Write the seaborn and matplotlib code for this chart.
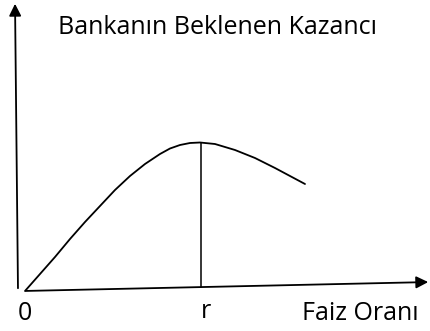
import numpy as np
import pandas as pd
import matplotlib
matplotlib.use("Agg")
import matplotlib.pyplot as plt
import seaborn as sns

# interest rate vs. bank's expected profit (schematic units)
faiz = [0, 15, 30, 45, 60, 75, 90, 105, 120, 135, 145, 155, 165, 175, 190, 210, 230, 250, 265, 280]
kazanc = [0, 17, 34, 52, 69, 85, 101, 115, 127, 137, 142.5, 146, 148, 148.5, 147, 141, 133, 123, 115, 107]
r_value = 176
r_peak = 148.5

sns.set_style("white")
plt.rcParams['font.family'] = ['Open Sans', 'DejaVu Sans']

fig = plt.figure(figsize=(4.31, 3.31), dpi=100)
ax = fig.add_axes([0, 0, 1, 1])
df = pd.DataFrame({"faiz": faiz, "kazanc": kazanc})
sns.lineplot(data=df, x="faiz", y="kazanc", color="black", lw=1.3, ax=ax)

# vertical line from the peak down to the x axis
ax.plot([r_value, r_value], [4, r_peak], color="black", lw=1.1)

# axes with arrow heads
ax.annotate("", xy=(-10, 290), xytext=(-7, 0),
            arrowprops=dict(arrowstyle="-|>", color="black", lw=1.3, mutation_scale=18))
ax.annotate("", xy=(406, 9), xytext=(-2, 0),
            arrowprops=dict(arrowstyle="-|>", color="black", lw=1.3, mutation_scale=18))

fs = 18
ax.text(33, 263, "Bankanın Beklenen Kazancı", ha="left", va="center", fontsize=fs, color="black")
ax.text(0, -22, "0", ha="center", va="center", fontsize=fs, color="black")
ax.text(181, -20, "r", ha="center", va="center", fontsize=fs, color="black")
ax.text(335, -22, "Faiz Oranı", ha="center", va="center", fontsize=fs, color="black")

ax.set_xlim(-25, 406)
ax.set_ylim(-40, 291)
ax.axis("off")

fig.savefig("out.png", dpi=100)
